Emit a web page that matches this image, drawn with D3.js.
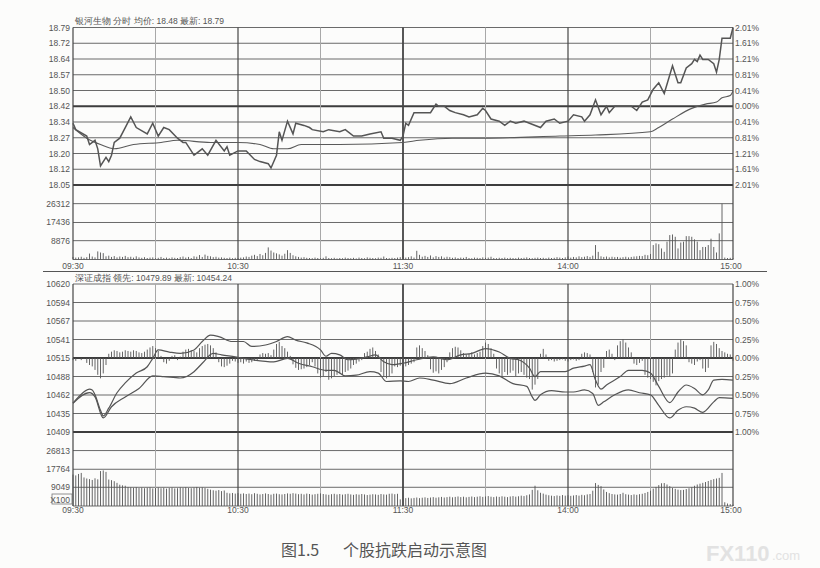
<!DOCTYPE html>
<html>
<head>
<meta charset="utf-8">
<script src="https://cdn.jsdelivr.net/npm/d3@7"></script>
<style>
  body { margin: 0; background: #fff; }
  svg { display: block; font-family: "Liberation Sans", Arial, sans-serif; }
</style>
</head>
<body>
<svg id="canvas" width="820" height="568"></svg>
<script>
// axis labels
var priceLabels = ['18.79', '18.72', '18.64', '18.57', '18.50', '18.42', '18.34', '18.27', '18.20', '18.12', '18.05'];
var pctLabels = ['2.01%', '1.61%', '1.21%', '0.81%', '0.41%', '0.00%', '0.41%', '0.81%', '1.21%', '1.61%', '2.01%'];
var vol1Labels = [26312, 17436, 8876];
var indexLabels = ['10620', '10594', '10567', '10541', '10515', '10488', '10462', '10435', '10409'];
var pct2Labels = ['1.00%', '0.75%', '0.50%', '0.25%', '0.00%', '0.25%', '0.50%', '0.75%', '1.00%'];
var vol2Labels = [26813, 17764, 9049];
var timeLabels = ['09:30', '10:30', '11:30', '14:00', '15:00'];
var timeLabelMin = [0, 60, 120, 180, 240];
var gridMin = [0, 30, 60, 90, 120, 150, 180, 210, 240];

// stock price [minute, price]
var price = [
  [0, 18.34], [1, 18.31], [5, 18.28], [6, 18.24], [8, 18.26], [9, 18.22], [10, 18.14], [12, 18.18], [13, 18.16],
  [14, 18.19], [15, 18.25], [17, 18.27], [19, 18.32], [21, 18.37], [23, 18.32], [27, 18.29], [29, 18.34], [31, 18.28],
  [33, 18.32], [35, 18.31], [38, 18.27], [40, 18.25], [41, 18.25], [44, 18.19], [45, 18.20], [47, 18.22], [49, 18.19],
  [52, 18.26], [55, 18.21], [56, 18.23], [57, 18.19], [60, 18.21], [63, 18.21], [66, 18.17], [68, 18.16], [71, 18.15],
  [72, 18.13], [74, 18.19], [75, 18.30], [76, 18.26], [78, 18.35], [80, 18.29], [81, 18.34], [84, 18.33], [86, 18.32],
  [87, 18.31], [91, 18.30], [93, 18.31], [97, 18.30], [99, 18.31], [102, 18.28], [105, 18.28], [108, 18.29], [112, 18.30],
  [113, 18.27], [116, 18.27], [119, 18.26], [120, 18.28], [121, 18.34], [122, 18.33], [124, 18.39], [126, 18.39],
  [128, 18.39], [130, 18.39], [132, 18.43], [133, 18.42], [135, 18.42], [137, 18.40], [139, 18.39], [142, 18.38],
  [144, 18.37], [147, 18.38], [149, 18.41], [150, 18.40], [152, 18.36], [155, 18.35], [157, 18.33], [159, 18.35],
  [161, 18.34], [164, 18.35], [166, 18.34], [170, 18.32], [172, 18.35], [175, 18.36], [177, 18.34], [180, 18.35],
  [182, 18.38], [185, 18.37], [186, 18.35], [188, 18.38], [190, 18.45], [192, 18.38], [194, 18.42], [195, 18.39],
  [197, 18.42], [199, 18.42], [201, 18.42], [203, 18.42], [205, 18.40], [207, 18.44], [209, 18.45], [211, 18.50],
  [213, 18.53], [215, 18.48], [218, 18.61], [220, 18.53], [221, 18.53], [223, 18.60], [225, 18.62], [226, 18.64],
  [227, 18.63], [228, 18.66], [229, 18.64], [231, 18.64], [233, 18.62], [234, 18.58], [235, 18.64], [236, 18.74],
  [239, 18.74], [240, 18.79]
];
// stock average price [minute, price]
var avgPrice = [
  [0, 18.32], [5, 18.27], [10, 18.24], [15, 18.22], [22, 18.24], [32, 18.25], [38, 18.26], [50, 18.25], [60, 18.25],
  [68, 18.24], [73, 18.22], [78, 18.22], [83, 18.24], [97, 18.24], [120, 18.25], [126, 18.26], [138, 18.27],
  [150, 18.27], [177, 18.28], [190, 18.285], [210, 18.30], [213, 18.32], [218, 18.36], [225, 18.41], [230, 18.43],
  [234, 18.44], [236, 18.46], [239, 18.47], [240, 18.49]
];
// stock volume per minute
var vol1 = [
  1200, 900, 1000, 1300, 800, 1100, 2800, 1400, 1000, 3800,
  3300, 3000, 1500, 1800, 1200, 1600, 1000, 1400, 1200, 1700,
  1100, 1300, 900, 1500, 1000, 800, 1100, 700, 900, 1000,
  600, 800, 1200, 700, 900, 600, 1000, 800, 700, 1100,
  1400, 900, 1200, 700, 1500, 1300, 2100, 1200, 2300, 1700,
  1500, 1100, 1300, 900, 1000, 800, 700, 900, 600, 800,
  700, 900, 1000, 1400, 1200, 1800, 2200, 1600, 2600, 2000,
  3100, 5700, 4200, 3300, 2900, 2400, 1800, 2700, 4400, 3100,
  2000, 1500, 1200, 900, 1100, 800, 700, 600, 900, 700,
  600, 800, 1500, 700, 600, 800, 500, 700, 600, 900,
  700, 600, 800, 500, 900, 700, 600, 1000, 800, 700,
  600, 900, 800, 1400, 700, 600, 800, 700, 900, 1100,
  1200, 900, 1100, 1500, 900, 4100, 2200, 1300, 1700, 1200,
  1900, 1000, 1600, 1200, 1500, 900, 1300, 1100, 800, 1000,
  700, 900, 800, 1200, 700, 600, 900, 800, 700, 1000,
  800, 900, 1300, 700, 600, 800, 700, 900, 600, 800,
  700, 600, 900, 700, 800, 1000, 700, 600, 800, 900,
  700, 800, 600, 900, 700, 800, 1100, 900, 700, 1000,
  1400, 900, 1200, 1000, 1500, 1100, 1300, 1600, 1200, 1800,
  6800, 3600, 1500, 1200, 1400, 1000, 1300, 1100, 1200, 900,
  1100, 1300, 1000, 1200, 1400, 1500, 1700, 1600, 2200, 2000,
  2600, 6800, 7600, 7200, 5200, 3600, 8400, 11500, 11800, 10700,
  5200, 8000, 8400, 11000, 11000, 10700, 9500, 8400, 4400, 5900,
  5900, 6800, 9800, 5900, 3300, 12300, 26300, 900, 700, 800,
  600
];

// index lines [minute, value]
var leadLine = [
  [0, 10450], [2, 10459], [6, 10470], [7, 10469], [8, 10462], [10, 10440], [11, 10432], [13, 10443], [16, 10465],
  [19, 10479], [23, 10493], [27, 10502], [29, 10514], [31, 10526], [35, 10523], [39, 10521], [44, 10526],
  [47, 10538], [50, 10547], [53, 10545], [58, 10538], [62, 10538], [65, 10531], [70, 10533], [74, 10538],
  [78, 10545], [81, 10540], [85, 10536], [90, 10526], [92, 10517], [94, 10521], [97, 10519], [100, 10512],
  [103, 10513], [107, 10516], [110, 10519], [113, 10509], [116, 10505], [120, 10507], [125, 10512], [131, 10516],
  [136, 10512], [141, 10519], [145, 10521], [150, 10528], [155, 10523], [159, 10514], [162, 10512], [166, 10500],
  [168, 10488], [170, 10495], [175, 10495], [179, 10495], [182, 10500], [186, 10503], [188, 10505], [190, 10483],
  [192, 10470], [194, 10476], [199, 10488], [202, 10497], [207, 10497], [210, 10493], [213, 10474], [217, 10451],
  [220, 10466], [223, 10476], [226, 10471], [229, 10462], [231, 10469], [233, 10483], [236, 10484], [240, 10483]
];
var indexLine = [
  [0, 10450], [6, 10465], [8, 10459], [11, 10429], [14, 10445], [19, 10459], [24, 10471], [29, 10489], [33, 10488],
  [39, 10486], [44, 10495], [47, 10507], [51, 10521], [54, 10519], [59, 10516], [65, 10512], [73, 10509],
  [78, 10514], [82, 10507], [87, 10502], [92, 10497], [95, 10497], [99, 10489], [103, 10490], [108, 10495],
  [111, 10493], [114, 10481], [119, 10482], [122, 10481], [126, 10486], [131, 10483], [137, 10478], [143, 10486],
  [150, 10493], [155, 10489], [160, 10478], [165, 10474], [167, 10459], [168, 10454], [170, 10462], [174, 10468],
  [179, 10466], [182, 10466], [186, 10469], [189, 10464], [191, 10447], [193, 10452], [197, 10462], [202, 10469],
  [206, 10465], [210, 10462], [213, 10447], [217, 10429], [220, 10440], [223, 10445], [226, 10443], [229, 10437],
  [233, 10452], [235, 10458], [240, 10457]
];
// buy/sell force bars per minute (index points from the zero line)
var force = [
  -3, -4, 0, -3, -1, -7, -10, -12, -17, -24,
  -29, -22, -10, 6, 9, 11, 10, 8, 9, 11,
  10, 9, 11, 10, 8, 7, 9, 12, 15, 17,
  14, 10, 3, -6, -8, -4, 3, 4, -3, 2,
  9, 12, 13, 11, 10, 8, 14, 17, 19, 20,
  18, 14, 8, -6, -12, -13, -11, -8, -4, -5,
  -7, -6, -8, -5, -7, -6, -4, -3, 5, 7,
  6, 7, 4, 12, 20, 23, 17, 14, 9, 3,
  -9, -14, -17, -16, -15, -13, -10, -6, -12, -22,
  -28, -26, -20, -31, -29, -26, -24, -22, -24, -20,
  -18, -15, -10, -8, -5, -3, 7, 9, 13, 15,
  10, 5, -20, -27, -29, -26, -22, -12, -13, -11,
  -9, -12, -10, -8, -6, 15, 18, 14, 10, 4,
  -16, -21, -19, -22, -17, -13, -6, 8, 14, 16,
  15, 11, 7, 5, 6, 8, 5, 7, 9, 17,
  22, 20, 14, 6, -15, -22, -26, -20, -24, -21,
  -18, -26, -22, -20, -24, -28, -30, -45, -38, -30,
  6, 13, 5, -4, -3, -5, -4, -3, -2, -4,
  -5, -3, -2, -4, -3, 6, 8, 7, 5, -20,
  -42, -38, -20, -14, 10, 12, 6, -3, 18, 24,
  27, 22, 15, 8, -8, -10, -7, -4, -24, -28,
  -30, -34, -39, -33, -30, -28, -25, -26, -22, 12,
  22, 26, 24, 18, -6, -8, -10, -5, -3, -15,
  -20, -14, 18, 23, 20, 14, 10, 8, 6, 5,
  -4
];
// index volume per minute
var vol2 = [
  15200, 14800, 15500, 16000, 13800, 13300, 13000, 12600, 13400, 12900,
  16900, 17200, 16500, 12800, 12500, 12000, 11200, 10300, 10000, 9800,
  9200, 9000, 8800, 9100, 8700, 8900, 8600, 8800, 9000, 8500,
  8700, 8900, 8600, 8800, 8400, 8700, 8900, 8500, 8600, 9000,
  8800, 9100, 8700, 8600, 8900, 9200, 8800, 9000, 8700, 8300,
  7900, 7600, 7400, 7700, 7200, 7500, 6400, 6100, 6300, 6000,
  6200, 5900, 6100, 5800, 6000, 5700, 6200, 5900, 5600, 5800,
  6100, 5800, 5500, 5900, 6000, 5700, 5600, 5800, 6100, 5900,
  6200, 6000, 5700, 5900, 5600, 6000, 5800, 5500, 5700, 5900,
  6100, 5800, 5600, 5400, 5700, 5900, 5600, 5800, 5500, 5700,
  5900, 5600, 5400, 5700, 5500, 5800, 5600, 5300, 5500, 5700,
  5600, 5400, 5800, 5600, 5500, 5900, 6000, 5700, 5900, 3200,
  3000, 3800, 4000, 3700, 3900, 4100, 3800, 4000, 4200, 3900,
  4100, 4300, 4000, 4200, 4400, 4100, 4300, 4500, 4200, 4400,
  4600, 4300, 4500, 4200, 4400, 4600, 4300, 4500, 4700, 4400,
  4600, 4800, 4500, 4300, 4600, 4400, 4700, 4500, 4300, 4600,
  4800, 4500, 4700, 5000, 4800, 5200, 5600, 7800, 9800, 7600,
  6400, 6000, 5500, 5200, 5000, 4800, 5100, 4900, 5300, 5000,
  5200, 4900, 5100, 5300, 5000, 5400, 5200, 5600, 5800, 7400,
  11100, 10200, 9600, 8000, 6800, 6200, 5800, 5600, 5500, 5800,
  6400, 5700, 5500, 5300, 5600, 5400, 5700, 5900, 6300, 6800,
  7400, 8400, 9200, 10100, 11000, 11100, 10400, 9600, 8700, 8300,
  7900, 7700, 7800, 8200, 8600, 9100, 9800, 10400, 10800, 11200,
  11600, 12100, 12600, 13000, 13300, 13600, 16000, 1800, 1200, 900,
  700
];


var svg = d3.select('#canvas');
var left = 73, right = 733;
var textColor = '#555';

svg.append('rect').attr('width', 820).attr('height', 568).attr('fill', '#fcfcfb');

var x = d3.scaleLinear().domain([0, 240]).range([left, right]);

// top panel scales
var yPrice = d3.scaleLinear().domain([18.05, 18.79]).range([185, 27.5]);
var yPriceGrid = d3.scalePoint().domain(d3.range(priceLabels.length)).range([27.5, 185]);
var yVol1 = d3.scaleLinear().domain([0, 35100]).range([259.5, 185]);

// lower panel scales
var yIdx = d3.scaleLinear().domain([10409, 10620]).range([432, 284]);
var yIdxGrid = d3.scalePoint().domain(d3.range(indexLabels.length)).range([284, 432]);
var yVol2 = d3.scaleLinear().domain([0, 35800]).range([506, 432]);
var idxBase = 10514.5;

var grid = svg.append('g').attr('class', 'grid');

function hline(y, thick) {
  grid.append('line')
    .attr('x1', left).attr('x2', right)
    .attr('y1', y).attr('y2', y)
    .attr('stroke', thick ? '#3d3d3d' : '#6a6a6a')
    .attr('stroke-width', thick ? 2 : 1);
}

function vlines(y1, y2) {
  gridMin.forEach(function (m) {
    var major = (m % 60 === 0);
    grid.append('line')
      .attr('x1', x(m)).attr('x2', x(m))
      .attr('y1', y1).attr('y2', y2)
      .attr('stroke', major ? '#454545' : '#a8a8a8')
      .attr('stroke-width', m === 120 ? 1.8 : (major ? 1.2 : 1));
  });
}

function leftLabel(y, t) {
  svg.append('text').attr('x', 70).attr('y', y + 3)
    .attr('text-anchor', 'end').attr('font-size', 8.5).attr('fill', textColor).text(t);
}
function rightLabel(y, t) {
  svg.append('text').attr('x', 735).attr('y', y + 3)
    .attr('font-size', 8.5).attr('fill', textColor).text(t);
}

// ---- top panel grid ----
priceLabels.forEach(function (t, i) {
  var y = yPriceGrid(i);
  hline(y, i === 5 || i === 10);
  leftLabel(y, t);
  rightLabel(y, pctLabels[i]);
});
vol1Labels.forEach(function (v) {
  hline(yVol1(v), false);
  leftLabel(yVol1(v), v);
});
hline(259.5, false);
vlines(27.5, 259.5);

// ---- lower panel grid ----
indexLabels.forEach(function (t, i) {
  var y = yIdxGrid(i);
  hline(y, i === 4 || i === 8);
  leftLabel(y, t);
  rightLabel(y, pct2Labels[i]);
});
vol2Labels.forEach(function (v) {
  hline(yVol2(v), false);
  leftLabel(yVol2(v), v);
});
hline(506, false);
vlines(284, 506);

// X100 box
svg.append('rect').attr('x', 52).attr('y', 494).attr('width', 20).attr('height', 10)
  .attr('fill', 'none').attr('stroke', '#777').attr('stroke-width', 0.8);
svg.append('text').attr('x', 70).attr('y', 502.5).attr('text-anchor', 'end')
  .attr('font-size', 8.5).attr('fill', textColor).text('X100');

// separator between panels
svg.append('line').attr('x1', 43).attr('x2', 767).attr('y1', 271.5).attr('y2', 271.5)
  .attr('stroke', '#555').attr('stroke-width', 1.2);

// time labels
[266 + 3, 510 + 3].forEach(function (ty) {
  timeLabels.forEach(function (t, i) {
    svg.append('text')
      .attr('x', i === timeLabels.length - 1 ? x(timeLabelMin[i]) - 2 : x(timeLabelMin[i]))
      .attr('y', ty)
      .attr('text-anchor', 'middle').attr('font-size', 8.5).attr('fill', textColor).text(t);
  });
});

// headers
svg.append('text').attr('x', 75).attr('y', 24).attr('font-size', 8.5).attr('fill', textColor)
  .text('银河生物 分时 均价: 18.48 最新: 18.79');
svg.append('text').attr('x', 75).attr('y', 281).attr('font-size', 8.5).attr('fill', textColor)
  .text('深证成指 领先: 10479.89 最新: 10454.24');

// ---- volume bars ----
svg.append('g').selectAll('line').data(vol1).enter().append('line')
  .attr('x1', function (d, i) { return x(i); }).attr('x2', function (d, i) { return x(i); })
  .attr('y1', yVol1(0)).attr('y2', function (d) { return yVol1(d); })
  .attr('stroke', '#555').attr('stroke-width', 0.9);

svg.append('g').selectAll('line').data(vol2).enter().append('line')
  .attr('x1', function (d, i) { return x(i); }).attr('x2', function (d, i) { return x(i); })
  .attr('y1', yVol2(0)).attr('y2', function (d) { return yVol2(d); })
  .attr('stroke', '#555').attr('stroke-width', 0.9);

// force bars around the zero line
svg.append('g').selectAll('line').data(force).enter().append('line')
  .attr('x1', function (d, i) { return x(i); }).attr('x2', function (d, i) { return x(i); })
  .attr('y1', yIdx(idxBase)).attr('y2', function (d) { return yIdx(idxBase + d); })
  .attr('stroke', '#555').attr('stroke-width', 0.9);

// ---- lines ----
var priceLine = d3.line()
  .x(function (d) { return x(d[0]); })
  .y(function (d) { return yPrice(d[1]); });
var idxLine = d3.line()
  .x(function (d) { return x(d[0]); })
  .y(function (d) { return yIdx(d[1]); })
  .curve(d3.curveMonotoneX);

svg.append('path').attr('d', priceLine.curve(d3.curveMonotoneX)(avgPrice))
  .attr('fill', 'none').attr('stroke', '#5a5a5a').attr('stroke-width', 1.1);
svg.append('path').attr('d', priceLine.curve(d3.curveLinear)(price))
  .attr('fill', 'none').attr('stroke', '#555').attr('stroke-width', 1.5);

svg.append('path').attr('d', idxLine(leadLine))
  .attr('fill', 'none').attr('stroke', '#555').attr('stroke-width', 1.2);
svg.append('path').attr('d', idxLine(indexLine))
  .attr('fill', 'none').attr('stroke', '#555').attr('stroke-width', 1.2);

// caption
svg.append('text').attr('x', 281).attr('y', 556).attr('font-size', 16)
  .attr('font-family', '"Noto Sans CJK SC", sans-serif').attr('fill', '#555').text('图1.5');
svg.append('text').attr('x', 343).attr('y', 556).attr('font-size', 16)
  .attr('font-family', '"Noto Sans CJK SC", sans-serif').attr('fill', '#555').text('个股抗跌启动示意图');

// watermark
svg.append('text').attr('x', 706).attr('y', 561).attr('font-size', 22).attr('font-weight', 'bold')
  .attr('fill', '#e2e2e2').text('FX110');
svg.append('text').attr('x', 772).attr('y', 560).attr('font-size', 13)
  .attr('fill', '#e2e2e2').text('.com');
</script>
</body>
</html>
